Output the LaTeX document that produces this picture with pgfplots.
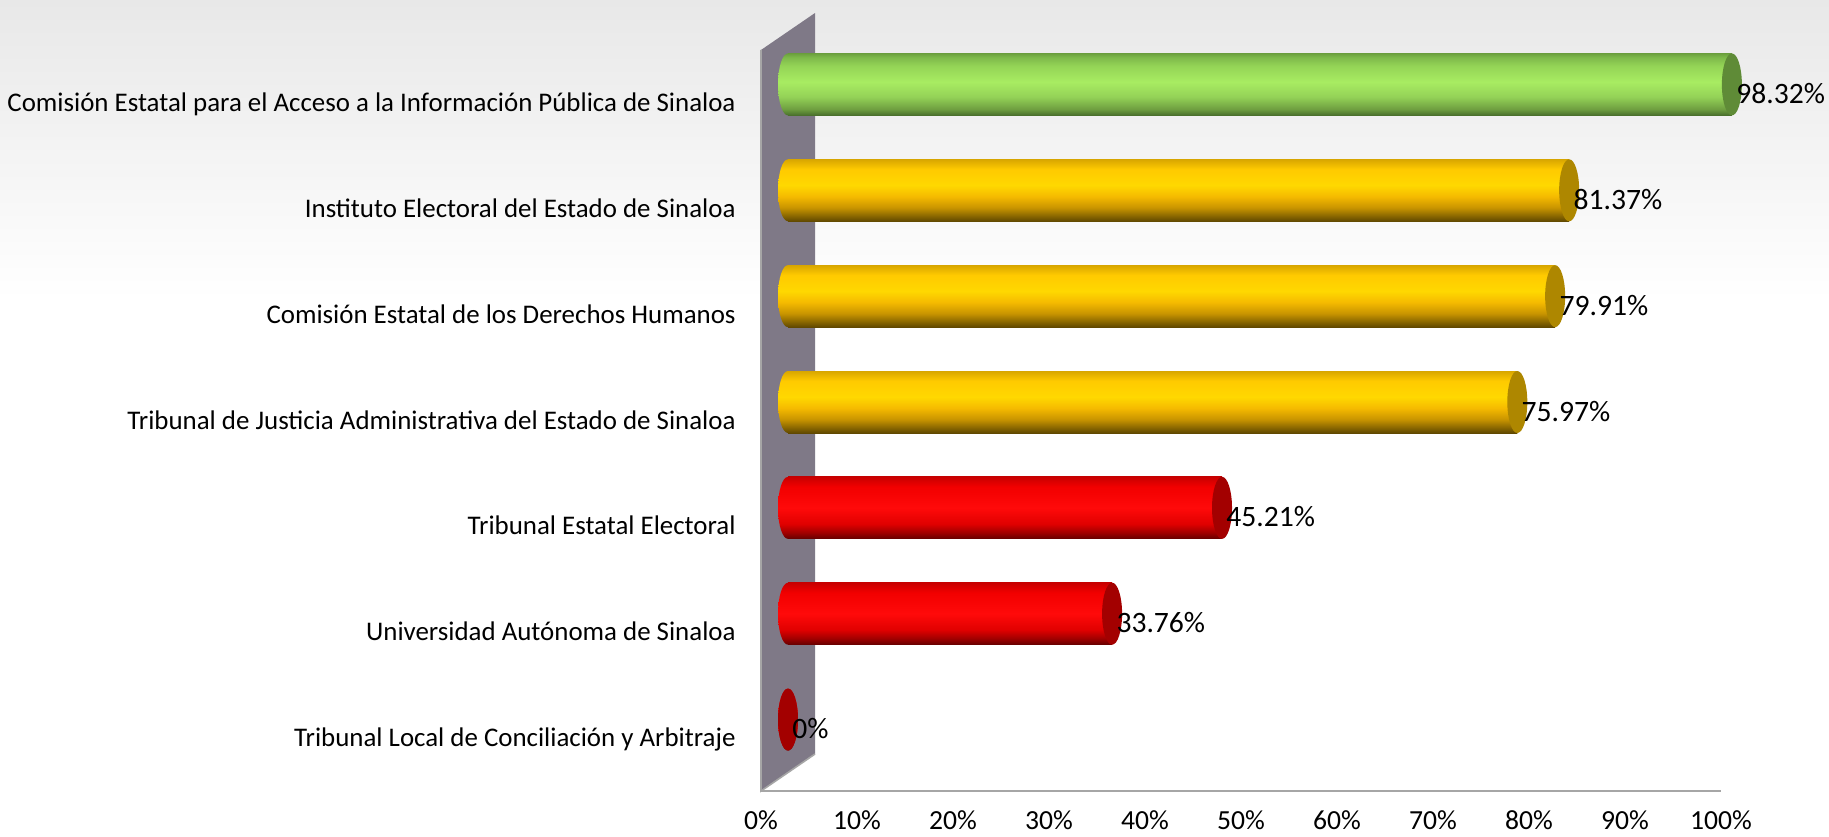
\documentclass[border=0pt]{standalone}
\usepackage{pgfplots}
\pgfplotsset{compat=1.18}
\usepackage{fontspec}
\setmainfont{Carlito}

\definecolor{bgtop}{HTML}{E8E8E8}
\definecolor{wallc}{HTML}{7F7987}
\definecolor{walledge}{HTML}{A6A6A6}
\definecolor{capG}{HTML}{5F8B37}
\definecolor{capY}{HTML}{AE8700}
\definecolor{capR}{HTML}{A30000}
% green body
\definecolor{ga}{HTML}{486E2C}\definecolor{gb}{HTML}{6E9E40}\definecolor{gc}{HTML}{94D257}
\definecolor{gd}{HTML}{A8EC62}\definecolor{ge}{HTML}{94D456}\definecolor{gf}{HTML}{7DB84A}
\definecolor{gg}{HTML}{6BA03D}
% yellow body
\definecolor{ya}{HTML}{604800}\definecolor{yb}{HTML}{8F6B00}\definecolor{yc}{HTML}{C89400}
\definecolor{yd}{HTML}{F5BA00}\definecolor{ye}{HTML}{FFD800}\definecolor{yf}{HTML}{FFCA00}
\definecolor{yg}{HTML}{D8A600}
% red body
\definecolor{ra}{HTML}{650000}\definecolor{rb}{HTML}{A00000}\definecolor{rc}{HTML}{E00000}
\definecolor{rd}{HTML}{FF0A0A}\definecolor{re}{HTML}{F20000}\definecolor{rf}{HTML}{C80000}

% cylinder shadings, bottom to top (path box = 25bp..75bp)
\pgfdeclareverticalshading{cylgreen}{100bp}{color(0bp)=(ga); color(25bp)=(ga);
  color(30bp)=(gb); color(40bp)=(gc); color(52bp)=(gd);
  color(65bp)=(ge); color(72bp)=(gf); color(75bp)=(gg); color(100bp)=(gg)}
\pgfdeclareverticalshading{cylyellow}{100bp}{color(0bp)=(ya); color(25bp)=(ya);
  color(30bp)=(yb); color(36bp)=(yc); color(45bp)=(yd);
  color(54bp)=(ye); color(67bp)=(yf); color(75bp)=(yg); color(100bp)=(yg)}
\pgfdeclareverticalshading{cylred}{100bp}{color(0bp)=(ra); color(25bp)=(ra);
  color(30bp)=(rb); color(37bp)=(rc); color(50bp)=(rd);
  color(67bp)=(re); color(75bp)=(rf); color(100bp)=(rf)}

% rounded left end of a cylinder, shaded like its body
\pgfdeclareplotmark{lcapG}{\pgfpathellipse{\pgfpointorigin}{\pgfqpoint{5pt}{0pt}}{\pgfqpoint{0pt}{15.5pt}}\pgfshadepath{cylgreen}{0}\pgfusepath{discard}}
\pgfdeclareplotmark{lcapY}{\pgfpathellipse{\pgfpointorigin}{\pgfqpoint{5pt}{0pt}}{\pgfqpoint{0pt}{15.5pt}}\pgfshadepath{cylyellow}{0}\pgfusepath{discard}}
\pgfdeclareplotmark{lcapR}{\pgfpathellipse{\pgfpointorigin}{\pgfqpoint{5pt}{0pt}}{\pgfqpoint{0pt}{15.5pt}}\pgfshadepath{cylred}{0}\pgfusepath{discard}}
% flat right end
\pgfdeclareplotmark{rcap}{\pgfpathellipse{\pgfpointorigin}{\pgfqpoint{5pt}{0pt}}{\pgfqpoint{0pt}{15.5pt}}\pgfusepathqfill}

\pgfplotsset{
  body/.style={xbar, bar shift=0pt, bar width=31pt, draw=none, shading=#1},
  endcap/.style={only marks, mark=rcap, mark options={fill=#1, draw=none},
    point meta=x,
    nodes near coords={\pgfmathprintnumber[fixed,precision=2]{\pgfplotspointmeta}\%},
    every node near coord/.style={anchor=base west, inner sep=0pt, xshift=2pt, yshift=-9.5pt,
      text=black, font=\fontsize{14.8pt}{17pt}\selectfont}},
}

\begin{document}
\begin{tikzpicture}
\fill[white] (0,0) rectangle (914.5pt,418pt);
\shade[top color=bgtop, bottom color=white] (0,268pt) rectangle (914.5pt,418pt);

\begin{axis}[
  at={(394pt,31.75pt)}, anchor=south west,
  scale only axis, width=480pt, height=370.5pt,
  xmin=0, xmax=100, ymin=-0.5, ymax=6.5,
  clip=false,
  axis line style={draw=none},
  major tick length=0pt, tick style={draw=none},
  xtick={0,10,...,100},
  xticklabel={\pgfmathprintnumber{\tick}\%},
  xticklabel style={anchor=base, inner sep=0pt, xshift=-13.5pt, yshift=-28.5pt,
    font=\fontsize{13.8pt}{16pt}\selectfont},
  ytick={0,...,6},
  yticklabels={Tribunal Local de Conciliación y Arbitraje,
    Universidad Autónoma de Sinaloa,
    Tribunal Estatal Electoral,
    Tribunal de Justicia Administrativa del Estado de Sinaloa,
    Comisión Estatal de los Derechos Humanos,
    Instituto Electoral del Estado de Sinaloa,
    Comisión Estatal para el Acceso a la Información Pública de Sinaloa},
  yticklabel style={anchor=base east, inner sep=0pt, xshift=-26pt, yshift=-13.5pt,
    font=\fontsize{13.45pt}{16pt}\selectfont},
  /pgf/number format/assume math mode=true,
]

% side wall and floor edge
\fill[wallc] (axis cs:-2.8125,-0.6747) -- (axis cs:-2.8125,6.3253)
  -- (axis cs:2.8125,6.6747) -- (axis cs:2.8125,-0.3253) -- cycle;
\draw[walledge, line width=0.8pt] (axis cs:-2.8125,6.3253) -- (axis cs:-2.8125,-0.6747)
  -- (axis cs:2.8125,-0.3253);
\draw[walledge, line width=1pt] (axis cs:-2.8125,-0.6747) -- (axis cs:97.1875,-0.6747);

% green
\addplot[only marks, mark=lcapG] coordinates {(0,6)};
\addplot[body=cylgreen] coordinates {(98.32,6)};
\addplot[endcap=capG] coordinates {(98.32,6)};

% yellow
\addplot[only marks, mark=lcapY] coordinates {(0,5) (0,4) (0,3)};
\addplot[body=cylyellow] coordinates {(81.37,5)};
\addplot[body=cylyellow] coordinates {(79.91,4)};
\addplot[body=cylyellow] coordinates {(75.97,3)};
\addplot[endcap=capY] coordinates {(81.37,5) (79.91,4) (75.97,3)};

% red
\addplot[only marks, mark=lcapR] coordinates {(0,2) (0,1) (0,0)};
\addplot[body=cylred] coordinates {(45.21,2)};
\addplot[body=cylred] coordinates {(33.76,1)};
\addplot[body=cylred] coordinates {(0,0)};
\addplot[endcap=capR] coordinates {(45.21,2) (33.76,1) (0,0)};

\end{axis}

\pgfresetboundingbox
\path[use as bounding box] (0,0) rectangle (914.5pt,418pt);
\end{tikzpicture}
\end{document}
